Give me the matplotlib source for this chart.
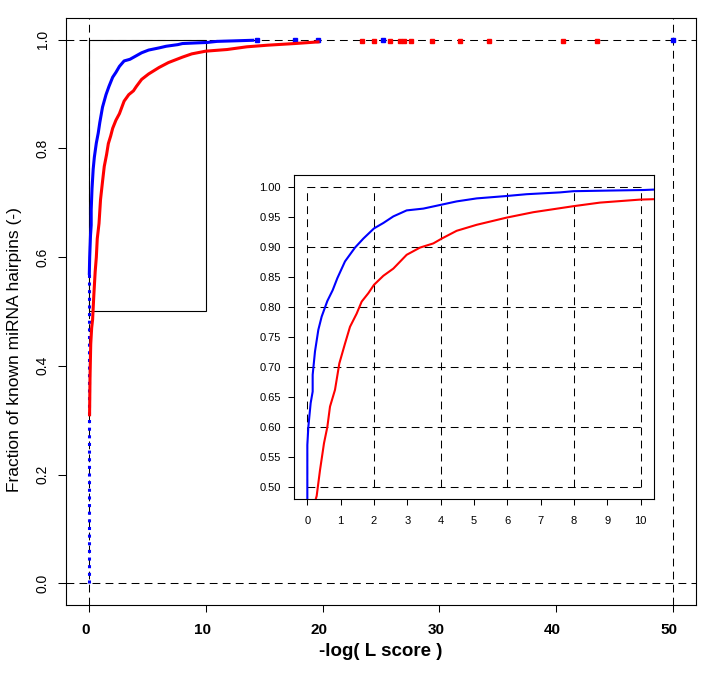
import matplotlib
matplotlib.use("Agg")
import matplotlib.pyplot as plt
from matplotlib.patches import Rectangle
from matplotlib.transforms import ScaledTranslation

plt.rcParams['font.family'] = ['Liberation Sans', 'DejaVu Sans']

# ---- data ----
blue_x = [0.0, 0.0, 0.03, 0.10, 0.16, 0.16, 0.23, 0.33, 0.43, 0.60, 0.76, 0.90, 1.13, 1.43,
          1.68, 2.00, 2.28, 2.58, 2.98, 3.48, 3.98, 4.48, 5.08, 5.98, 6.58, 7.58, 7.98,
          9.0, 10.1, 10.95, 12.5, 14.0]
blue_y = [0.0, 0.57, 0.60, 0.64, 0.659, 0.687, 0.726, 0.762, 0.784, 0.810, 0.828, 0.848, 0.876, 0.899,
          0.914, 0.931, 0.940, 0.951, 0.961, 0.964, 0.970, 0.976, 0.981, 0.985, 0.988, 0.991, 0.993,
          0.994, 0.995, 0.997, 0.998, 0.999]
blue_tail_x = [14.4, 17.6, 19.6, 25.2, 50.0]
blue_tail_y = [1.0, 1.0, 1.0, 1.0, 1.0]

red_x = [0.02, 0.06, 0.12, 0.20, 0.28, 0.38, 0.50, 0.60, 0.68, 0.83, 0.96, 1.13, 1.28, 1.48,
         1.63, 1.83, 2.00, 2.28, 2.58, 2.98, 3.38, 3.78, 4.03, 4.48, 5.08, 5.98, 6.78, 7.98,
         8.78, 9.98, 11.8, 13.5, 15.3, 17.6, 19.6]
red_y = [0.31, 0.38, 0.44, 0.47, 0.485, 0.528, 0.573, 0.600, 0.634, 0.662, 0.706, 0.739, 0.767, 0.789,
         0.809, 0.823, 0.837, 0.852, 0.864, 0.887, 0.899, 0.906, 0.914, 0.927, 0.937, 0.949, 0.958, 0.968,
         0.974, 0.979, 0.982, 0.987, 0.990, 0.993, 0.996]
red_tail_x = [23.4, 24.4, 25.8, 26.6, 27.0, 27.6, 29.4, 31.8, 34.3, 40.6, 43.5]
red_tail_y = [0.998, 0.998, 0.997, 0.998, 0.998, 0.998, 0.998, 0.998, 0.998, 0.998, 0.998]

main_xticks = [0, 10, 20, 30, 40, 50]
main_yticks = [0.0, 0.2, 0.4, 0.6, 0.8, 1.0]
inset_xticks = [0, 1, 2, 3, 4, 5, 6, 7, 8, 9, 10]
inset_yticks = [0.50, 0.55, 0.60, 0.65, 0.70, 0.75, 0.80, 0.85, 0.90, 0.95, 1.00]
inset_vgrid = [0, 2, 4, 6, 8, 10]
inset_hgrid = [0.5, 0.6, 0.7, 0.8, 0.9, 1.0]

BLUE = '#0000FF'
RED = '#FF0000'
DASH = (0, (7.5, 5))

fig = plt.figure(figsize=(7.2, 6.8), dpi=100)

# ---- main axes ----
ax = fig.add_axes([66/720, 75/680, 630/720, 587/680])
ax.set_xlim(-2, 52)
ax.set_ylim(-0.04, 1.04)
for v in (0.0, 1.0):
    ax.axhline(v, color='black', lw=0.75, ls=DASH, zorder=1)
for v in (0, 50):
    ax.axvline(v, color='black', lw=0.75, ls=DASH, zorder=1)
ax.add_patch(Rectangle((0, 0.5), 10, 0.5, fill=False, ec='black', lw=0.8, zorder=2))

ax.plot(blue_x[:2], blue_y[:2], color=BLUE, lw=2.2, ls=(0, (1, 1.5)), zorder=3)
ax.plot(blue_x[1:], blue_y[1:], color=BLUE, lw=2.2, zorder=3)
ax.plot(blue_tail_x, blue_tail_y, ls='none', marker='s', ms=2.2, color=BLUE, zorder=3)
ax.plot(red_x, red_y, color=RED, lw=2.2, zorder=3)
ax.plot(red_tail_x, red_tail_y, ls='none', marker='s', ms=2.2, color=RED, zorder=3)

ax.set_xticks(main_xticks)
ax.set_xticklabels([str(t) for t in main_xticks], fontsize=11, fontweight='bold')
ax.set_yticks(main_yticks)
ax.set_yticklabels(['%.1f' % t for t in main_yticks], fontsize=10, rotation=90, va='center')
ax.tick_params(axis='x', length=7*0.72, width=0.75, pad=8.0, direction='out')
ax.tick_params(axis='y', length=8.5*0.72, width=0.75, pad=5.5, direction='out')
shift = ScaledTranslation(-3.5/100, 0, fig.dpi_scale_trans)
for lbl in ax.get_xticklabels():
    lbl.set_transform(lbl.get_transform() + shift)
for s in ax.spines.values():
    s.set_linewidth(0.8)
ax.set_xlabel('-log( L score )', fontsize=13.5, fontweight='bold')
ax.xaxis.set_label_coords(0.5, (605 - 652) / 587)
ax.xaxis.label.set_va('center')
ax.set_ylabel('Fraction of known miRNA hairpins (-)', fontsize=12.5)
ax.yaxis.set_label_coords((15 - 66) / 630, (605 - 350) / 587)
ax.yaxis.label.set_va('center')

# ---- inset axes ----
ins = fig.add_axes([294/720, 181/680, 360/720, 324/680])
ins.set_xlim(-0.4, 10.4)
ins.set_ylim(0.48, 1.02)
ins.vlines(inset_vgrid, 0.5, 1.0, colors='black', lw=0.75, linestyles=[DASH], zorder=1)
ins.hlines(inset_hgrid, 0, 10, colors='black', lw=0.75, linestyles=[DASH], zorder=1)
ins.plot(blue_x, blue_y, color=BLUE, lw=1.5, zorder=3)
ins.plot(red_x, red_y, color=RED, lw=1.5, zorder=3)
ins.set_xticks(inset_xticks)
ins.set_xticklabels([str(t) for t in inset_xticks], fontsize=8)
ins.set_yticks(inset_yticks)
ins.set_yticklabels(['%.2f' % t for t in inset_yticks], fontsize=8)
ins.tick_params(axis='x', length=6*0.72, width=0.75, pad=8, direction='out')
ins.tick_params(axis='y', length=6*0.72, width=0.75, pad=5, direction='out')
for s in ins.spines.values():
    s.set_linewidth(0.8)

fig.savefig('out.png', dpi=100)
